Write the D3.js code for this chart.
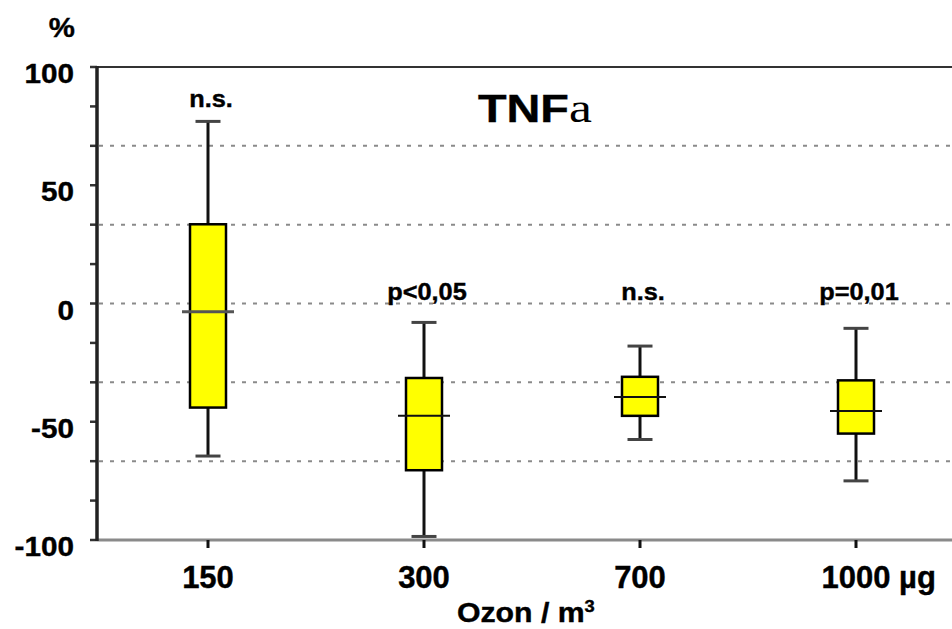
<!DOCTYPE html>
<html>
<head>
<meta charset="utf-8">
<script src="https://cdn.jsdelivr.net/npm/d3@7"></script>
<style>
  html, body { margin: 0; padding: 0; background: #fff; }
  svg { display: block; }
  text { font-family: "Liberation Sans", Arial, sans-serif; font-weight: bold; fill: #000; stroke: #000; stroke-width: 0.4px; }
</style>
</head>
<body>
<svg id="chart" width="952" height="629"></svg>
<script>
// ---- data ----
const categories = ["150", "300", "700", "1000"];
const xLabels = ["150", "300", "700", "1000 µg"];
const whiskerHigh = [77, -8, -18, -10.5];
const q3 = [33.5, -31.5, -31, -32.5];
const median = [-3.5, -47.5, -39.5, -45.5];
const q1 = [-44, -70.5, -47.5, -55];
const whiskerLow = [-64.5, -98.5, -57.5, -75];
const annotations = ["n.s.", "p<0,05", "n.s.", "p=0,01"];
const annotLevel = [83, 1.5, 1.5, 1.5];
const yTickLabels = [100, 50, 0, -50, -100];
const gridValues = [200 / 3, 100 / 3, 0, -100 / 3, -200 / 3];
const minorTicks = d3.range(-6, 7).map(i => i * 100 / 6);
const titleText = "TNF";
const titleGreek = "a";
const xTitle = "Ozon / m";
const xTitleSup = "3";
const yUnit = "%";

// ---- layout ----
const svg = d3.select("#chart");
const W = 952;
const plotLeft = 97, plotTop = 67, plotBottom = 540;

const y = d3.scaleLinear().domain([-100, 100]).range([plotBottom, plotTop]);
const x = d3.scaleBand().domain(categories).range([100, 964]).paddingInner(0).paddingOuter(0);
const cx = c => x(c) + x.bandwidth() / 2;
const boxW = 36, capW = 25, medExt = 8;

// gridlines
svg.append("g").selectAll("line").data(gridValues).join("line")
  .attr("x1", plotLeft + 2).attr("x2", W)
  .attr("y1", d => y(d)).attr("y2", d => y(d))
  .attr("stroke", "#8a8a8a").attr("stroke-width", 2)
  .attr("stroke-dasharray", "4,7");

// top border
svg.append("line").attr("x1", plotLeft).attr("x2", W).attr("y1", plotTop).attr("y2", plotTop)
  .attr("stroke", "#333").attr("stroke-width", 2);

// boxes
const data = categories.map((c, i) => ({
  c, hi: whiskerHigh[i], q3: q3[i], med: median[i], q1: q1[i], lo: whiskerLow[i]
}));
const g = svg.append("g");
const bx = g.selectAll("g.box").data(data).join("g").attr("class", "box");
bx.append("line").attr("x1", d => cx(d.c)).attr("x2", d => cx(d.c))
  .attr("y1", d => y(d.hi)).attr("y2", d => y(d.q3))
  .attr("stroke", "#111").attr("stroke-width", 3);
bx.append("line").attr("x1", d => cx(d.c)).attr("x2", d => cx(d.c))
  .attr("y1", d => y(d.q1)).attr("y2", d => y(d.lo))
  .attr("stroke", "#111").attr("stroke-width", 3);
bx.append("line").attr("x1", d => cx(d.c) - capW / 2).attr("x2", d => cx(d.c) + capW / 2)
  .attr("y1", d => y(d.hi)).attr("y2", d => y(d.hi))
  .attr("stroke", "#444").attr("stroke-width", 3);
bx.append("line").attr("x1", d => cx(d.c) - capW / 2).attr("x2", d => cx(d.c) + capW / 2)
  .attr("y1", d => y(d.lo)).attr("y2", d => y(d.lo))
  .attr("stroke", "#444").attr("stroke-width", 3);
bx.append("rect").attr("x", d => cx(d.c) - boxW / 2).attr("width", boxW)
  .attr("y", d => y(d.q3)).attr("height", d => y(d.q1) - y(d.q3))
  .attr("fill", "#ffff00").attr("stroke", "#000").attr("stroke-width", 2.5);
bx.append("line").attr("x1", d => cx(d.c) - boxW / 2 - medExt).attr("x2", d => cx(d.c) + boxW / 2 + medExt)
  .attr("y1", d => y(d.med)).attr("y2", d => y(d.med))
  .attr("stroke", (d, i) => i === 0 ? "#555" : "#111").attr("stroke-width", (d, i) => i === 0 ? 3 : 2);

// bottom axis line
svg.append("line").attr("x1", plotLeft).attr("x2", W).attr("y1", plotBottom).attr("y2", plotBottom)
  .attr("stroke", "#8a8a8a").attr("stroke-width", 3);
// x ticks
svg.append("g").selectAll("line").data(categories).join("line")
  .attr("x1", d => cx(d)).attr("x2", d => cx(d))
  .attr("y1", plotBottom).attr("y2", plotBottom + 8)
  .attr("stroke", "#111").attr("stroke-width", 3);

// y axis
svg.append("g").selectAll("line").data(minorTicks).join("line")
  .attr("x1", plotLeft - 7).attr("x2", plotLeft)
  .attr("y1", d => y(d)).attr("y2", d => y(d))
  .attr("stroke", "#333").attr("stroke-width", 2.5);
svg.append("line").attr("x1", plotLeft).attr("x2", plotLeft).attr("y1", plotTop - 1).attr("y2", plotBottom + 1)
  .attr("stroke", "#222").attr("stroke-width", 3.5);

// y labels
svg.append("g").selectAll("text").data(yTickLabels).join("text")
  .attr("transform", d => `translate(74,${y(d) + 16}) scale(1.06,1)`)
  .attr("text-anchor", "end").attr("font-size", 28)
  .text(d => d);
svg.append("text").attr("transform", "translate(75,37) scale(1.05,1)")
  .attr("text-anchor", "end").attr("font-size", 28).text(yUnit);

// x labels (numeric part centred on the tick)
svg.append("g").selectAll("text").data(categories).join("text")
  .attr("y", 588)
  .attr("font-size", 31)
  .text(d => d)
  .each(function (d, i) {
    const num = this.getComputedTextLength();
    d3.select(this).text(xLabels[i]).attr("x", cx(d) - num / 2);
  });

// x title
const xt = svg.append("text").attr("transform", "translate(457,622) scale(1.08,1)").attr("font-size", 28);
xt.append("tspan").text(xTitle);
xt.append("tspan").attr("font-size", 17).attr("dy", -10).text(xTitleSup);

// annotations
svg.append("g").selectAll("text").data(annotations).join("text")
  .attr("transform", (d, i) => `translate(${cx(categories[i]) + 3},${y(annotLevel[i])}) scale(1.1,1)`)
  .attr("text-anchor", "middle").attr("font-size", 23)
  .text(d => d);

// title
const tt = svg.append("text").attr("transform", "translate(478,122) scale(1.2,1)").attr("font-size", 39);
tt.append("tspan").text(titleText);
tt.append("tspan").attr("font-family", "'Liberation Serif', 'DejaVu Serif', serif")
  .attr("font-weight", "normal").attr("stroke-width", 0).attr("font-size", 43).text(titleGreek);
</script>
</body>
</html>
